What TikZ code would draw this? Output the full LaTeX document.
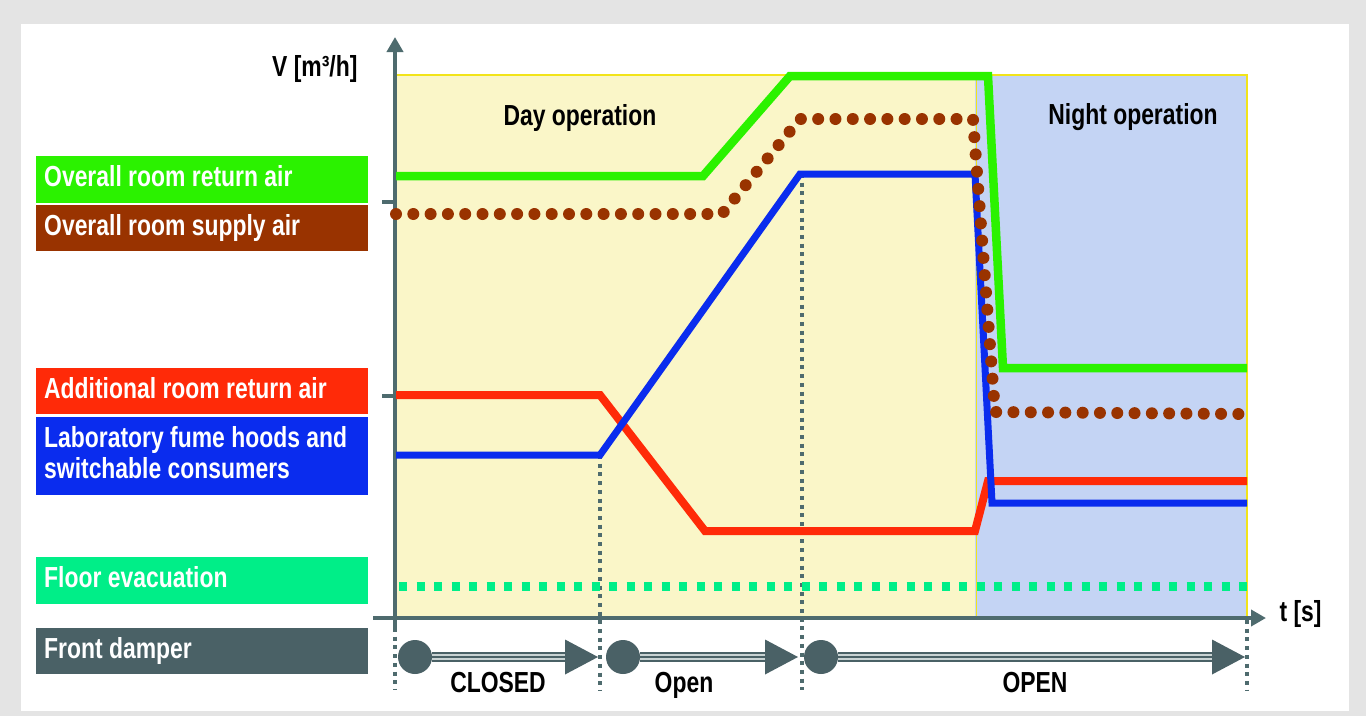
\documentclass[tikz,border=0pt]{standalone}
\usepackage{fontspec}
\setmainfont{Liberation Sans}[FakeStretch=0.79]
\usetikzlibrary{arrows.meta}
\definecolor{panelgrey}{HTML}{E4E4E4}
\definecolor{dayfill}{HTML}{FAF6C8}
\definecolor{nightfill}{HTML}{C4D4F4}
\definecolor{frameyellow}{HTML}{F2E41A}
\definecolor{axisslate}{HTML}{4E6B6E}
\definecolor{damperslate}{HTML}{4A6166}
\definecolor{damperlight}{HTML}{C9D3D3}
\definecolor{returngreen}{HTML}{2BF200}
\definecolor{supplybrown}{HTML}{993300}
\definecolor{addred}{HTML}{FF2A08}
\definecolor{labblue}{HTML}{0A2CEE}
\definecolor{floorgreen}{HTML}{00EE88}
\newcommand{\legendfont}{\fontsize{29}{31}\selectfont\bfseries}
\tikzset{
  legendbox/.style={anchor=north west, minimum width=332pt, minimum height=#1,
    text width=316pt, inner xsep=8pt, inner ysep=0pt, align=flush left,
    text=white, text height=20pt, font=\legendfont},
  axisline/.style={axisslate, line width=4pt, -{Triangle[length=15pt,width=16pt]}},
  phaseline/.style={axisslate, line width=4pt, dash pattern=on 4pt off 4.7pt},
  returnline/.style={returngreen, line width=8.5pt},
  supplyline/.style={supplybrown, line width=12pt, line cap=round,
    dash pattern=on 0pt off 17.3pt},
  addline/.style={addred, line width=8pt},
  labline/.style={labblue, line width=7pt},
  floorline/.style={floorgreen, line width=9pt, dash pattern=on 8pt off 9.5pt},
  damperdot/.style={circle, fill=damperslate, minimum size=34pt, inner sep=0pt},
  plainlabel/.style={font=\legendfont, text=black, anchor=base},
}

\begin{document}
\begin{tikzpicture}[x=1pt, y=-1pt]
  \useasboundingbox (0,0) rectangle (1366,716);
  \fill[panelgrey] (0,0) rectangle (1366,716);
  \fill[white] (21,24) rectangle (1349,711);

  % legend
  \foreach \lab/\col/\top/\boxht/\boxdp [count=\i] in
    {{Overall room return air}/returngreen/156/47/6,
     {Overall room supply air}/supplybrown/205/46/6,
     {Additional room return air}/addred/368/46/6,
     {Laboratory fume hoods and\\switchable consumers}/labblue/417/78/37,
     {Floor evacuation}/floorgreen/557/47/6,
     {Front damper}/damperslate/628/46/6}{%
    \node[legendbox=\boxht pt, text depth=\boxdp pt, fill=\col] (legend\i)
      at (36,\top) {\lab};}

  % day / night
  \fill[dayfill] (397,75) rectangle (975,616);
  \fill[nightfill] (975,75) rectangle (1247,616);
  \draw[frameyellow, line width=1.5pt] (397,75) -- (1247,75) -- (1247,616);
  \draw[frameyellow, line width=1pt] (976,75) -- (976,616);
  \node[plainlabel] (day) at (580,125) {Day operation};
  \node[plainlabel] (night) at (1133,124) {Night operation};

  % phase marks
  \draw[phaseline] (395,628) -- (395,690);
  \draw[phaseline] (600,455) -- (600,690);
  \draw[phaseline] (802,174) -- (802,690);
  \draw[phaseline] (1247,620) -- (1247,690);

  % axes
  \coordinate (origin) at (395,618);
  \coordinate (vtop) at (395,37);
  \coordinate (tend) at (1266,618);
  \draw[axisline] (395,628) -- (vtop);
  \draw[axisline] (373,618) -- (tend);
  \foreach \y in {202,396}{%
    \draw[axisslate, line width=4pt] (382,\y) -- (395,\y);}
  \node[plainlabel, anchor=base east] (vlab) at (361,76) {V [m³/h]};
  \node[plainlabel, anchor=base west] (tlab) at (1276,621) {t [s]};

  % flows
  \draw[floorline] (399,586) -- (1247,586);
  \draw[addline] (396,395) -- (600,395) -- (705,531) -- (975,531)
    -- (988,481) -- (1247,481);
  \draw[labline] (396,455) -- (600,455) -- (800,174) -- (975,174)
    -- (992,503) -- (1247,503);
  \draw[supplyline] (396,214) -- (722,214) -- (800,119) -- (973,119)
    -- (995,412) -- (1240,414);
  \draw[returnline] (396,176) -- (703,176) -- (790,76) -- (988,76)
    -- (1003,368) -- (1247,368);

  % front damper
  \foreach \s/\t/\lab/\mid [count=\i] in
    {415/598/CLOSED/498, 623/798/Open/684, 821/1245/OPEN/1035}{%
    \node[damperdot] (dot\i) at (\s,657) {};
    \coordinate (tip\i) at (\t,657);
    \draw[damperslate, line width=10pt] (dot\i) -- ([xshift=-30pt]tip\i);
    \draw[damperlight, line width=6pt] (dot\i) -- ([xshift=-30pt]tip\i);
    \draw[damperslate, line width=2pt] (dot\i) -- ([xshift=-30pt]tip\i);
    \fill[damperslate] (tip\i) -- ++(-33,-17.5) -- ++(0,35) -- cycle;
    \node[plainlabel] (state\i) at (\mid,692) {\lab};}
\end{tikzpicture}
\end{document}
